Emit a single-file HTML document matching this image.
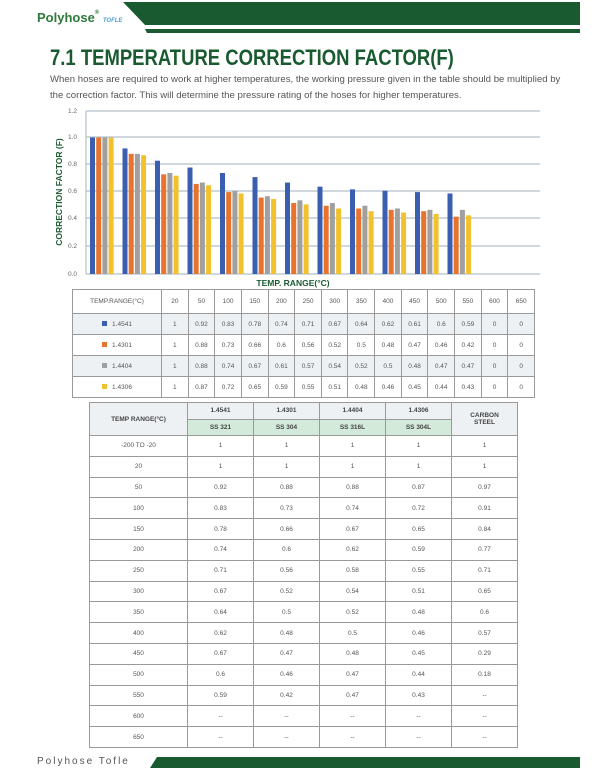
<!DOCTYPE html>
<html><head><meta charset="utf-8"><style>
body{margin:0;width:600px;height:776px;background:#fff;font-family:"Liberation Sans",sans-serif;position:relative;overflow:hidden}
.abs{position:absolute}
table{border-collapse:collapse;position:absolute;table-layout:fixed}
td{border:1px solid #9a9a9a;text-align:center;color:#555;font-size:6.5px;padding:0}
#t1 td{height:20px}
#t1 tr:nth-child(even) td{background:#eef1f4}
#t2 td{height:19.8px}
#t2 tr:nth-child(odd) td{background:#eef1f4}
#t2 tr.w td{background:#fff}
#t2 .h td{background:#d3eadb;font-weight:bold;color:#444;height:15.5px}
.sq{display:inline-block;width:5px;height:5px;margin-right:5px;vertical-align:middle}
</style></head><body>
<div class="abs" style="left:37px;top:10px;font-size:13px;font-weight:bold;color:#2d7a3a">Polyhose<span style="font-size:6px;vertical-align:top">®</span> <span style="font-size:6px;font-style:italic;color:#4b9fd0">TOFLE</span></div>
<svg class="abs" style="left:0;top:0" width="600" height="776">
<polygon points="123,2 580,2 580,25 145,25" fill="#1a5a30"/>
<polygon points="145,29 580,29 580,33 147,33" fill="#1a5a30"/>
<polygon points="157,757 580,757 580,768 150,768" fill="#1a5a30"/>
<g stroke="#b5c0cc" stroke-width="1.2">
<line x1="86" x2="540" y1="111" y2="111"/><line x1="86" x2="540" y1="137" y2="137"/><line x1="86" x2="540" y1="164" y2="164"/><line x1="86" x2="540" y1="191" y2="191"/><line x1="86" x2="540" y1="218" y2="218"/><line x1="86" x2="540" y1="246" y2="246"/><line x1="86" x2="540" y1="274" y2="274"/><line x1="86" x2="86" y1="111" y2="274"/>
</g>
<g id="bars"></g>
<g font-size="6.5" fill="#666" text-anchor="end">
<text x="77" y="113">1.2</text><text x="77" y="139">1.0</text><text x="77" y="166">0.8</text><text x="77" y="193">0.6</text><text x="77" y="220">0.4</text><text x="77" y="248">0.2</text><text x="77" y="276">0.0</text>
</g>
<text x="62" y="192" transform="rotate(-90 62 192)" text-anchor="middle" font-size="8.5" font-weight="bold" fill="#1a5a30">CORRECTION FACTOR (F)</text>
<text x="293" y="286" text-anchor="middle" font-size="8.5" font-weight="bold" fill="#1a5a30">TEMP. RANGE(°C)</text>
</svg>
<div class="abs" style="left:50px;top:45px;font-size:22px;font-weight:bold;color:#1a5a30;white-space:nowrap;transform:scaleX(0.84);transform-origin:0 0">7.1 TEMPERATURE CORRECTION FACTOR(F)</div>
<div class="abs" style="left:50px;top:72px;width:520px;font-size:9.6px;line-height:15.5px;color:#555">When hoses are required to work at higher temperatures, the working pressure given in the table should be multiplied by the correction factor. This will determine the pressure rating of the hoses for higher temperatures.</div>
<table id="t1" style="left:72px;top:289px;width:463px">
<colgroup><col style="width:89px"><col span="14"></colgroup>
<tr><td style="height:23px">TEMP.RANGE(°C)</td><td>20</td><td>50</td><td>100</td><td>150</td><td>200</td><td>250</td><td>300</td><td>350</td><td>400</td><td>450</td><td>500</td><td>550</td><td>600</td><td>650</td></tr>
<tr><td><span class="sq" style="background:#3b5fb0"></span>1.4541</td><td>1</td><td>0.92</td><td>0.83</td><td>0.78</td><td>0.74</td><td>0.71</td><td>0.67</td><td>0.64</td><td>0.62</td><td>0.61</td><td>0.6</td><td>0.59</td><td>0</td><td>0</td></tr>
<tr><td><span class="sq" style="background:#e8732c"></span>1.4301</td><td>1</td><td>0.88</td><td>0.73</td><td>0.66</td><td>0.6</td><td>0.56</td><td>0.52</td><td>0.5</td><td>0.48</td><td>0.47</td><td>0.46</td><td>0.42</td><td>0</td><td>0</td></tr>
<tr><td><span class="sq" style="background:#a0a0a0"></span>1.4404</td><td>1</td><td>0.88</td><td>0.74</td><td>0.67</td><td>0.61</td><td>0.57</td><td>0.54</td><td>0.52</td><td>0.5</td><td>0.48</td><td>0.47</td><td>0.47</td><td>0</td><td>0</td></tr>
<tr><td><span class="sq" style="background:#f2c12e"></span>1.4306</td><td>1</td><td>0.87</td><td>0.72</td><td>0.65</td><td>0.59</td><td>0.55</td><td>0.51</td><td>0.48</td><td>0.46</td><td>0.45</td><td>0.44</td><td>0.43</td><td>0</td><td>0</td></tr>
</table>
<table id="t2" style="left:89px;top:402px;width:429px">
<colgroup><col style="width:98px"><col span="5"></colgroup>
<tr class="h"><td rowspan="2">TEMP RANGE(°C)</td><td>1.4541</td><td>1.4301</td><td>1.4404</td><td>1.4306</td><td rowspan="2">CARBON<br>STEEL</td></tr>
<tr class="h"><td>SS 321</td><td>SS 304</td><td>SS 316L</td><td>SS 304L</td></tr>
<tr class="w"><td>-200 TO -20</td><td>1</td><td>1</td><td>1</td><td>1</td><td>1</td></tr>
<tr><td>20</td><td>1</td><td>1</td><td>1</td><td>1</td><td>1</td></tr>
<tr class="w"><td>50</td><td>0.92</td><td>0.88</td><td>0.88</td><td>0.87</td><td>0.97</td></tr>
<tr><td>100</td><td>0.83</td><td>0.73</td><td>0.74</td><td>0.72</td><td>0.91</td></tr>
<tr class="w"><td>150</td><td>0.78</td><td>0.66</td><td>0.67</td><td>0.65</td><td>0.84</td></tr>
<tr><td>200</td><td>0.74</td><td>0.6</td><td>0.62</td><td>0.59</td><td>0.77</td></tr>
<tr class="w"><td>250</td><td>0.71</td><td>0.56</td><td>0.58</td><td>0.55</td><td>0.71</td></tr>
<tr><td>300</td><td>0.67</td><td>0.52</td><td>0.54</td><td>0.51</td><td>0.65</td></tr>
<tr class="w"><td>350</td><td>0.64</td><td>0.5</td><td>0.52</td><td>0.48</td><td>0.6</td></tr>
<tr><td>400</td><td>0.62</td><td>0.48</td><td>0.5</td><td>0.46</td><td>0.57</td></tr>
<tr class="w"><td>450</td><td>0.67</td><td>0.47</td><td>0.48</td><td>0.45</td><td>0.29</td></tr>
<tr><td>500</td><td>0.6</td><td>0.46</td><td>0.47</td><td>0.44</td><td>0.18</td></tr>
<tr class="w"><td>550</td><td>0.59</td><td>0.42</td><td>0.47</td><td>0.43</td><td>--</td></tr>
<tr><td>600</td><td>--</td><td>--</td><td>--</td><td>--</td><td>--</td></tr>
<tr class="w"><td>650</td><td>--</td><td>--</td><td>--</td><td>--</td><td>--</td></tr>
</table>
<div class="abs" style="left:37px;top:756px;font-size:10px;letter-spacing:2px;color:#555">Polyhose Tofle</div>
<script>
var d=[[1,.92,.83,.78,.74,.71,.67,.64,.62,.61,.6,.59],[1,.88,.73,.66,.6,.56,.52,.5,.48,.47,.46,.42],[1,.88,.74,.67,.61,.57,.54,.52,.5,.48,.47,.47],[1,.87,.72,.65,.59,.55,.51,.48,.46,.45,.44,.43]];
var c=["#3b5fb0","#e8732c","#a0a0a0","#f2c12e"],s="";
for(var j=0;j<4;j++)for(var i=0;i<d[j].length;i++){var h=d[j][i]*136.5,x=90+32.5*i+6.2*j;s+='<rect x="'+x+'" y="'+(274-h)+'" width="5" height="'+h+'" fill="'+c[j]+'"/>';}
document.getElementById("bars").innerHTML=s;
</script>
</body></html>
